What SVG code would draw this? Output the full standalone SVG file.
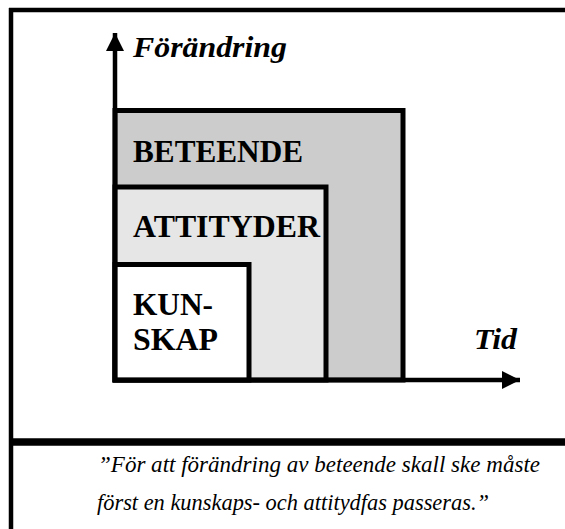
<svg xmlns="http://www.w3.org/2000/svg" width="565" height="529" viewBox="0 0 565 529">
<defs>
<style>
.frame{stroke:#000;fill:none}
.box{stroke:#000;stroke-width:5}
.lbl{font-family:"Liberation Serif",serif;font-weight:bold;font-size:30.5px;fill:#000}
.ax{font-family:"Liberation Serif",serif;font-weight:bold;font-style:italic;font-size:29px;fill:#000}
.q{font-family:"Liberation Serif",serif;font-style:italic;font-size:24px;fill:#000}
</style>
<marker id="ah" viewBox="0 0 10 10" refX="10" refY="5" markerWidth="4" markerHeight="4" orient="auto" markerUnits="strokeWidth">
<path d="M0,0 L10,5 L0,10 Z" fill="#000"/>
</marker>
</defs>
<rect width="565" height="529" fill="#fff"/>
<g id="frame">
<line class="frame" x1="11" y1="8" x2="11" y2="529" stroke-width="4.5"/>
<line class="frame" x1="9" y1="10" x2="565" y2="10" stroke-width="4.5"/>
<line class="frame" x1="9" y1="442" x2="565" y2="442" stroke-width="7.5"/>
</g>
<g id="beteende">
<rect class="box" x="115" y="110.5" width="288" height="269.5" fill="#cccccc"/>
<text class="lbl" x="133" y="162" textLength="170" lengthAdjust="spacingAndGlyphs">BETEENDE</text>
</g>
<g id="attityder">
<rect class="box" x="115" y="187" width="211" height="193" fill="#e6e6e6"/>
<text class="lbl" x="133" y="237" textLength="187" lengthAdjust="spacingAndGlyphs">ATTITYDER</text>
</g>
<g id="kunskap">
<rect class="box" x="115" y="264.5" width="134" height="115.5" fill="#ffffff"/>
<text class="lbl" x="133" y="315" textLength="80" lengthAdjust="spacingAndGlyphs">KUN-</text>
<text class="lbl" x="133" y="350" textLength="85" lengthAdjust="spacingAndGlyphs">SKAP</text>
</g>
<g id="connectors">
<line x1="115" y1="382" x2="115" y2="33" stroke="#000" stroke-width="4.5" marker-end="url(#ah)"/>
<line x1="113" y1="380" x2="520" y2="380" stroke="#000" stroke-width="4.5" marker-end="url(#ah)"/>
</g>
<g id="axis-labels">
<text class="ax" x="133" y="57" textLength="154" lengthAdjust="spacingAndGlyphs">Förändring</text>
<text class="ax" x="474" y="349" textLength="43" lengthAdjust="spacingAndGlyphs">Tid</text>
</g>
<g id="quote">
<text class="q" x="98" y="472" textLength="442" lengthAdjust="spacingAndGlyphs">”För att förändring av beteende skall ske måste</text>
<text class="q" x="97" y="510" textLength="392" lengthAdjust="spacingAndGlyphs">först en kunskaps- och attitydfas passeras.”</text>
</g>
</svg>
